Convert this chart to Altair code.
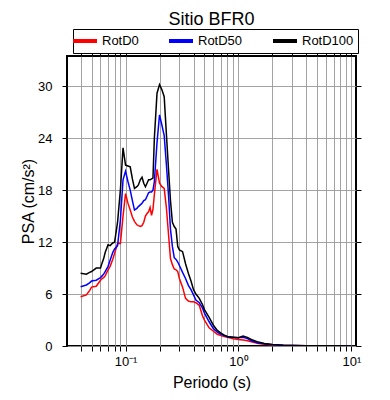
import altair as alt
import pandas as pd

FONT = "Liberation Sans"

periods = [0.04, 0.045, 0.048, 0.05, 0.055, 0.06, 0.062, 0.064, 0.066, 0.07, 0.073, 0.077,
           0.08, 0.085, 0.09, 0.095, 0.1, 0.105, 0.11, 0.115, 0.12, 0.126, 0.13, 0.135,
           0.14, 0.145, 0.15, 0.155, 0.16, 0.165, 0.17, 0.175, 0.18, 0.19, 0.2, 0.21,
           0.22, 0.23, 0.24, 0.25, 0.26, 0.27, 0.28, 0.29, 0.3, 0.32, 0.34, 0.36, 0.38,
           0.4, 0.42, 0.45, 0.48, 0.5, 0.55, 0.6, 0.65, 0.7, 0.75, 0.8, 0.9, 1.0, 1.1,
           1.2, 1.3, 1.5, 1.7, 2.0, 2.5, 3.0, 4.0, 5.0, 6.0, 7.5, 10.0]

rotd0 = [5.7, 5.9, 6.4, 6.8, 6.9, 7.6, 7.8, 7.9, 8.1, 8.8, 9.2, 10.0,
         10.7, 11.85, 11.85, 15.0, 17.6, 16.5, 15.7, 14.9, 14.4, 14.0, 13.9, 13.8,
         13.9, 14.3, 15.0, 15.3, 15.5, 16.0, 15.1, 15.8, 17.5, 20.4, 18.8, 18.4,
         18.2, 16.0, 13.0, 10.1, 9.4, 8.9, 8.8, 8.6, 7.8, 6.8, 5.5, 5.2, 5.1,
         5.1, 5.0, 4.7, 3.5, 3.0, 2.1, 1.7, 1.35, 1.2, 1.1, 1.0, 0.85, 0.75, 0.7,
         0.6, 0.5, 0.3, 0.2, 0.12, 0.07, 0.05, 0.03, 0.02, 0.015, 0.01, 0.006]

rotd50 = [6.85, 7.05, 7.3, 7.5, 7.6, 7.9, 8.1, 8.3, 8.6, 9.2, 9.9, 10.8,
          11.2, 11.6, 14.5, 19.2, 20.2, 19.0, 18.0, 16.8, 15.7, 15.9, 16.1, 16.3,
          16.5, 16.8, 16.9, 17.3, 17.7, 17.8, 17.8, 18.0, 19.0, 23.5, 26.7, 25.5,
          24.3, 21.0, 17.5, 13.5, 11.5, 10.2, 10.0, 9.7, 9.3, 8.5, 7.8, 7.0, 6.5,
          5.9, 5.3, 5.0, 4.4, 3.8, 2.8, 2.0, 1.6, 1.35, 1.2, 1.05, 1.0, 0.95, 1.0,
          0.85, 0.6, 0.35, 0.25, 0.15, 0.08, 0.06, 0.035, 0.025, 0.018, 0.012, 0.008]

rotd100 = [8.4, 8.3, 8.5, 8.6, 9.0, 9.0, 9.6, 10.1, 10.8, 11.7, 11.6, 11.9,
           12.0, 14.3, 18.0, 22.9, 20.9, 20.8, 20.7, 19.3, 18.2, 18.4, 18.6, 19.2,
           19.5, 18.8, 18.4, 18.8, 19.2, 19.2, 19.3, 19.4, 24.0, 29.2, 30.2, 29.6,
           28.8, 24.5, 20.5, 16.8, 14.3, 13.8, 13.5, 11.5, 11.1, 10.9, 9.5, 8.4, 7.5,
           6.5, 6.0, 5.5, 4.8, 4.2, 3.3, 2.4, 1.8, 1.5, 1.25, 1.1, 1.0, 0.96, 1.15,
           1.0, 0.75, 0.45, 0.3, 0.18, 0.1, 0.07, 0.04, 0.03, 0.02, 0.015, 0.01]

series = ["RotD0", "RotD50", "RotD100"]
colors = ["#ff0000", "#0000ff", "#000000"]

x_ticks = [0.04, 0.05, 0.06, 0.07, 0.08, 0.09,
           0.1, 0.2, 0.3, 0.4, 0.5, 0.6, 0.7, 0.8, 0.9,
           1, 2, 3, 4, 5, 6, 7, 8, 9, 10]
y_ticks = [0, 6, 12, 18, 24, 30]

rows = []
for name, vals in zip(series, [rotd0, rotd50, rotd100]):
    for p, v in zip(periods, vals):
        rows.append({"periodo": p, "psa": v, "serie": name})
df = pd.DataFrame(rows)

xscale = alt.Scale(type="log", domain=[0.0303, 11], nice=False)
yscale = alt.Scale(domain=[0, 33.5], nice=False)

label_expr = ("datum.value == 0.1 ? '10\u207b\u00b9' : datum.value == 1 ? '10\u2070' : "
              "datum.value == 10 ? '10\u00b9' : ''")

lines = alt.Chart(df).mark_line(strokeWidth=1.5, clip=True).encode(
    x=alt.X("periodo:Q", scale=xscale,
            axis=alt.Axis(orient="bottom", values=x_ticks, labelExpr=label_expr,
                          labelOverlap=False, title="Periodo (s)", grid=True,
                          labelPadding=4, titlePadding=6)),
    y=alt.Y("psa:Q", scale=yscale,
            axis=alt.Axis(orient="left", values=y_ticks, title="PSA (cm/s\u00b2)",
                          grid=True, labelPadding=10, titlePadding=1)),
    color=alt.Color("serie:N", scale=alt.Scale(domain=series, range=colors),
                    legend=alt.Legend(orient="none", legendX=6, legendY=-27,
                                      direction="horizontal", columns=3,
                                      gridAlign="each", title=None,
                                      strokeColor="black", fillColor="white",
                                      padding=4, columnPadding=22,
                                      symbolType="M-2,0L2,0", symbolSize=144,
                                      symbolStrokeWidth=4, labelFont=FONT,
                                      labelFontSize=13, labelOffset=9,
                                      labelColor="black")),
)

frame = alt.Chart(df).mark_point(opacity=0).encode(
    x=alt.X("periodo:Q", scale=xscale,
            axis=alt.Axis(orient="top", values=x_ticks, labels=False, title=None,
                          grid=False)),
    y=alt.Y("psa:Q", scale=yscale,
            axis=alt.Axis(orient="right", values=y_ticks, labels=False, title=None,
                          grid=False)),
)

chart = alt.layer(lines, frame).resolve_axis(
    x="independent", y="independent"
).properties(
    width=289, height=290,
    autosize=alt.AutoSizeParams(type="none"),
    padding={"left": 59, "top": 48, "right": 26, "bottom": 46},
    title=alt.TitleParams("Sitio BFR0", font=FONT, fontSize=18, fontWeight="normal",
                          anchor="middle", frame="group", offset=0, color="black"),
).configure_view(
    stroke="black", strokeWidth=2
).configure_axis(
    domain=False, tickColor="black", tickSize=5, tickWidth=1,
    labelFont=FONT, labelFontSize=13, labelColor="black",
    titleFont=FONT, titleFontSize=16, titleFontWeight="normal", titleColor="black",
    gridColor="#999999", gridWidth=1, gridOpacity=0.9,
)

chart.save("out.html", embed_options={"renderer": "svg", "actions": False})
